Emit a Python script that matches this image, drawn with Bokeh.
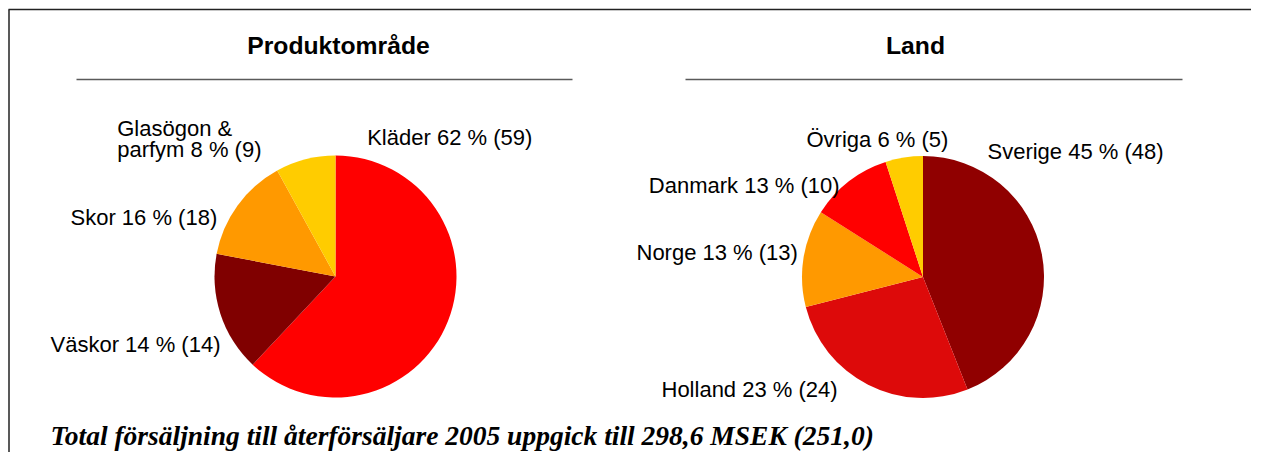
import numpy as np
from bokeh.plotting import figure
from bokeh.models import Range1d, ColumnDataSource
from bokeh.core.properties import value
from bokeh.embed import file_html
from bokeh.resources import INLINE

# ---- data ----
left_title = "Produktområde"
left_labels = ["Kläder 62 % (59)", "Väskor 14 % (14)", "Skor 16 % (18)", "Glasögon &\nparfym 8 % (9)"]
left_values = [62, 16, 14, 8]          # slice sizes as drawn
left_colors = ["#FF0000", "#800000", "#FF9900", "#FFCC00"]

right_title = "Land"
right_labels = ["Sverige 45 % (48)", "Holland 23 % (24)", "Norge 13 % (13)", "Danmark 13 % (10)", "Övriga 6 % (5)"]
right_values = [44, 27, 13, 11, 5]     # slice sizes as drawn
right_colors = ["#900000", "#DD0A0A", "#FF9900", "#FF0000", "#FFCC00"]

footer = "Total försäljning till återförsäljare 2005 uppgick till 298,6 MSEK (251,0)"

# ---- layout (canvas coordinates, y up) ----
W, H = 1251, 452
left_center = (335, 176)
right_center = (922.5, 175.5)
radius = 121
left_label_pos = [(366.7, 315), (50, 108.3), (70, 235.5), (116.7, 324)]
right_label_pos = [(987, 301), (661, 63.3), (636, 200), (648.3, 267.3), (806, 313.3)]

p = figure(width=W, height=H, x_range=Range1d(0, W), y_range=Range1d(0, H),
           output_backend="svg", toolbar_location=None, min_border=0,
           x_axis_location=None, y_axis_location=None)
p.grid.visible = False
p.outline_line_color = None
p.background_fill_color = "white"
p.border_fill_color = "white"


def pie(center, values, colors):
    v = np.array(values, dtype=float)
    frac = v / v.sum()
    cum_end = np.cumsum(frac)
    cum_start = cum_end - frac
    start = np.pi / 2 - cum_end * 2 * np.pi
    end = np.pi / 2 - cum_start * 2 * np.pi
    src = ColumnDataSource(dict(x=[center[0]] * len(v), y=[center[1]] * len(v),
                                start=start, end=end, color=colors))
    p.wedge(x="x", y="y", radius=radius, start_angle="start", end_angle="end",
            fill_color="color", line_color=None, source=src)


pie(left_center, left_values, left_colors)
pie(right_center, right_values, right_colors)

lab_font = value("Liberation Sans")
for labels, pos in ((left_labels, left_label_pos), (right_labels, right_label_pos)):
    for t, (x, y) in zip(labels, pos):
        lines = t.split("\n")
        for k, ln in enumerate(lines):
            p.text(x=[x], y=[y - k * 20.7], text=[ln], text_font=lab_font, text_font_size="22px",
                   text_color="black", text_align="left", text_baseline="alphabetic")

# titles
p.text(x=[338], y=[406.7], text=[left_title], text_font=lab_font, text_font_style="bold",
       text_font_size="24.7px", text_align="center", text_baseline="alphabetic", text_color="black")
p.text(x=[915], y=[406.7], text=[right_title], text_font=lab_font, text_font_style="bold",
       text_font_size="24.7px", text_align="center", text_baseline="alphabetic", text_color="black")

# rules under titles
p.segment(x0=[76, 685], y0=[373, 373], x1=[572, 1182], y1=[373, 373],
          line_color="#5a5a5a", line_width=1.5)

# frame (left and top edges visible)
p.segment(x0=[8.5, 8], y0=[0, 443], x1=[8.5, W], y1=[443, 443],
          line_color="#222222", line_width=1.5)

# footer
p.text(x=[50], y=[17], text=[footer], text_font=value("Liberation Serif"),
       text_font_style="bold italic", text_font_size="27.5px", text_align="left",
       text_baseline="alphabetic", text_color="black")

open("out.html", "w").write(file_html(p, INLINE))
